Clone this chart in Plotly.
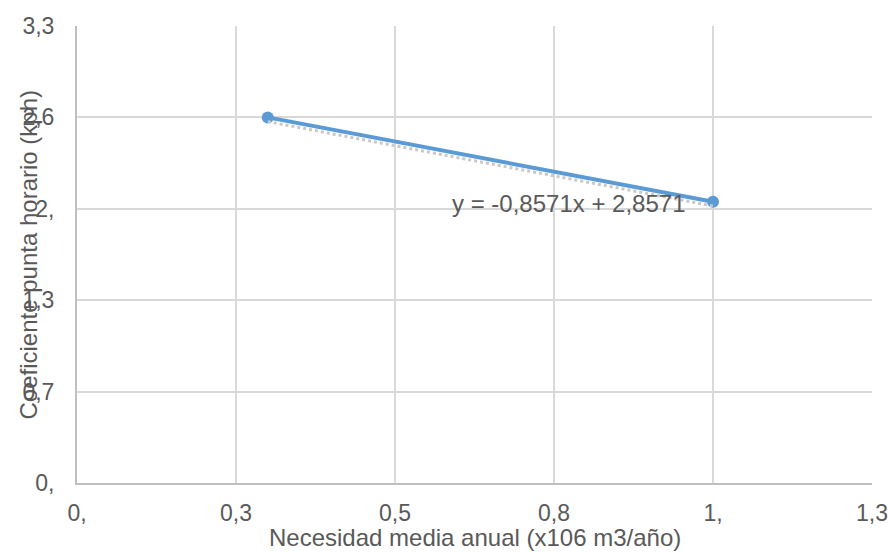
import plotly.graph_objects as go

# Data
x_vals = [0.3, 1.0]
y_vals = [2.6, 2.0]
trend_slope = -0.8571
trend_intercept = 2.8571
trend_label = "y = -0,8571x + 2,8571"

x_tickvals = [0, 0.25, 0.5, 0.75, 1.0, 1.25]
x_ticktext = ["0,", "0,3", "0,5", "0,8", "1,", "1,3"]
y_tickvals = [0, 0.65, 1.3, 1.95, 2.6, 3.25]
y_ticktext = ["0,", "0,7", "1,3", "2,", "2,6", "3,3"]

x_title = "Necesidad media anual (x106 m3/año)"
y_title = "Coeficiente punta horario (kph)"

trend_y = [trend_slope * v + trend_intercept for v in x_vals]

FONT = "Liberation Sans, Arial, sans-serif"
TXT = "#595959"

fig = go.Figure()
fig.add_trace(go.Scatter(
    x=x_vals, y=trend_y, mode="lines", yaxis="y2",
    line=dict(color="#C8C8C8", width=3, dash="dot"),
    hoverinfo="skip", showlegend=False,
))
fig.add_trace(go.Scatter(
    x=x_vals, y=y_vals, mode="lines+markers",
    line=dict(color="#5B9BD5", width=4),
    marker=dict(color="#5B9BD5", size=12),
    showlegend=False,
))

fig.update_layout(
    width=888, height=552,
    margin=dict(l=77, r=16, t=26, b=69, autoexpand=False),
    paper_bgcolor="white", plot_bgcolor="white",
    font=dict(family=FONT, size=23, color=TXT),
    xaxis=dict(
        range=[0, 1.25], tickvals=x_tickvals, ticktext=x_ticktext,
        showgrid=True, gridcolor="#D9D9D9", gridwidth=2,
        showline=True, linecolor="#BFBFBF", linewidth=2,
        zeroline=False, ticks="", ticklabelstandoff=8, automargin=False,
        tickfont=dict(family=FONT, size=23, color=TXT),
    ),
    yaxis=dict(
        range=[0, 3.25], tickvals=y_tickvals, ticktext=y_ticktext,
        showgrid=True, gridcolor="#D9D9D9", gridwidth=2,
        showline=True, linecolor="#BFBFBF", linewidth=2,
        zeroline=False, ticks="", ticklabelstandoff=16, automargin=False,
        tickfont=dict(family=FONT, size=23, color=TXT),
    ),
    yaxis2=dict(
        range=[0.03, 3.28], overlaying="y", visible=False,
    ),
    annotations=[
        dict(text=x_title, xref="paper", yref="paper", x=0.5, y=0,
             yshift=-54, xanchor="center", yanchor="middle", showarrow=False,
             font=dict(family=FONT, size=24, color=TXT)),
        dict(text=y_title, xref="paper", yref="paper", x=0, y=0.5,
             xshift=-49, xanchor="center", yanchor="middle", textangle=-90,
             showarrow=False, font=dict(family=FONT, size=24, color=TXT)),
        dict(text=trend_label, xref="x", yref="y", x=0.96, y=1.99,
             xanchor="right", yanchor="middle", showarrow=False,
             font=dict(family=FONT, size=24, color=TXT)),
    ],
)

fig.write_html("out.html")
